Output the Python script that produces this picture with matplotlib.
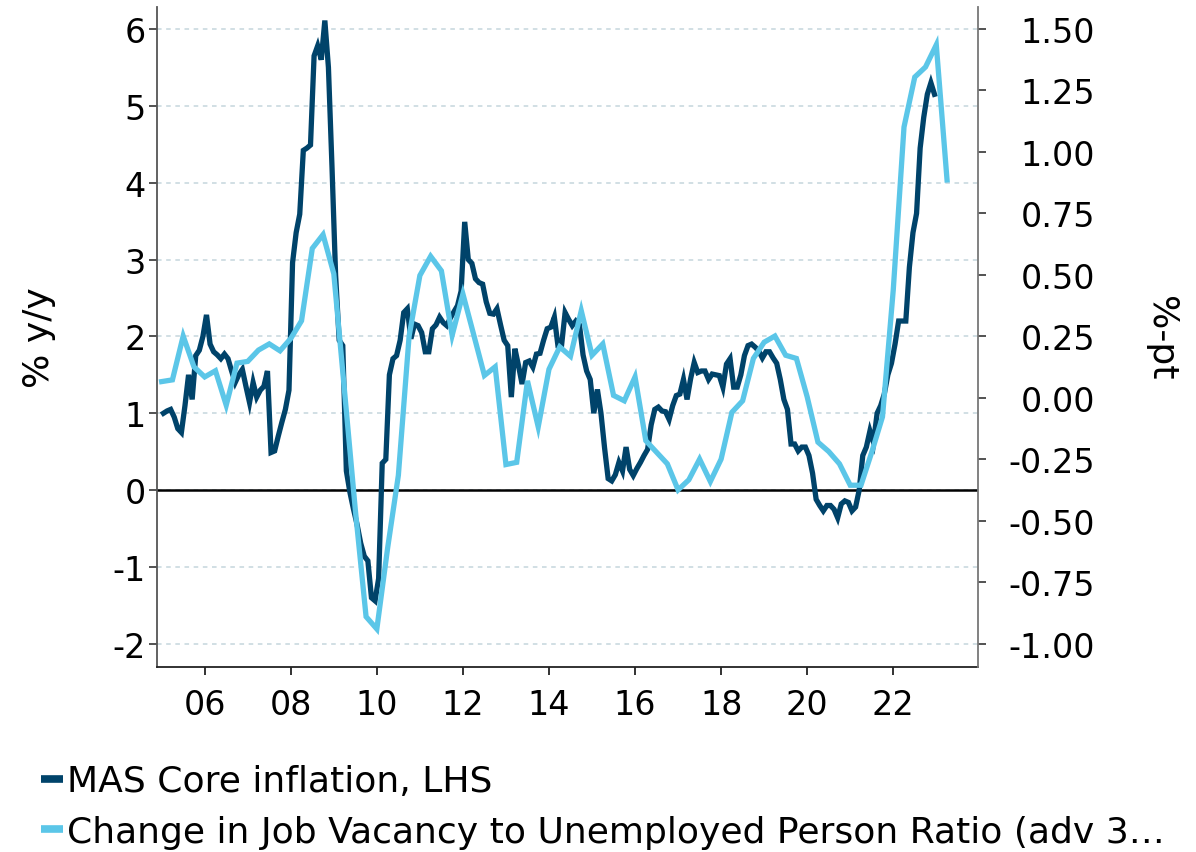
import matplotlib
matplotlib.use("Agg")
import matplotlib.pyplot as plt
from matplotlib.lines import Line2D
import numpy as np

# MAS core inflation, % y/y, monthly from Jan 2005 (left axis)
core_start = 2005
core_inflation = [
    1.0, 1.03, 1.05, 0.95, 0.8, 0.75, 1.1, 1.5, 1.18, 1.75, 1.82, 2.0,          # 2005
    2.28, 1.9, 1.8, 1.76, 1.71, 1.77, 1.71, 1.55, 1.4, 1.5, 1.57, 1.35,        # 2006
    1.14, 1.4, 1.21, 1.3, 1.35, 1.55, 0.49, 0.51, 0.7, 0.88, 1.05, 1.3,        # 2007
    2.96, 3.35, 3.59, 4.42, 4.45, 4.49, 5.65, 5.78, 5.6, 6.11, 5.5, 4.2,       # 2008
    2.8, 1.95, 1.88, 0.25, -0.03, -0.25, -0.45, -0.69, -0.86, -0.92, -1.4, -1.44,  # 2009
    -1.15, 0.35, 0.4, 1.5, 1.71, 1.75, 1.95, 2.31, 2.36, 1.97, 2.16, 2.14,     # 2010
    2.05, 1.8, 1.8, 2.1, 2.15, 2.25, 2.18, 2.14, 2.24, 2.32, 2.4, 2.59,        # 2011
    3.49, 3.0, 2.95, 2.75, 2.7, 2.68, 2.45, 2.3, 2.29, 2.36, 2.15, 1.95,       # 2012
    1.88, 1.21, 1.84, 1.62, 1.38, 1.66, 1.68, 1.6, 1.77, 1.78, 1.95, 2.1,      # 2013
    2.12, 2.25, 1.88, 1.88, 2.31, 2.22, 2.14, 2.2, 2.15, 1.76, 1.55, 1.44,     # 2014
    1.0, 1.31, 1.0, 0.55, 0.15, 0.12, 0.2, 0.36, 0.25, 0.56, 0.27, 0.19,       # 2015
    0.28, 0.36, 0.45, 0.53, 0.85, 1.05, 1.08, 1.03, 1.02, 0.92, 1.1, 1.23,     # 2016
    1.25, 1.44, 1.18, 1.45, 1.66, 1.53, 1.55, 1.55, 1.44, 1.51, 1.5, 1.49,     # 2017
    1.34, 1.64, 1.71, 1.34, 1.34, 1.5, 1.75, 1.88, 1.9, 1.86, 1.81, 1.72,      # 2018
    1.8, 1.8, 1.72, 1.65, 1.44, 1.18, 1.05, 0.6, 0.6, 0.51, 0.56, 0.56,        # 2019
    0.45, 0.22, -0.12, -0.2, -0.27, -0.2, -0.2, -0.25, -0.36, -0.18, -0.14, -0.16,  # 2020
    -0.27, -0.22, 0.0, 0.45, 0.56, 0.77, 0.62, 1.0, 1.1, 1.25, 1.5, 1.65,      # 2021
    1.9, 2.2, 2.2, 2.2, 2.9, 3.35, 3.6, 4.45, 4.85, 5.15, 5.3, 5.15,           # 2022
]

# change in job vacancy / unemployed ratio, %-pt, quarterly from 2005Q1 (right axis)
jv_start = 2005
jv_change = [
    0.066, 0.073, 0.251, 0.126,     # 2005
    0.085, 0.110, -0.030, 0.141,    # 2006
    0.148, 0.194, 0.219, 0.191,     # 2007
    0.241, 0.313, 0.607, 0.663,     # 2008
    0.504, 0.026, -0.455, -0.889,   # 2009
    -0.939, -0.611, -0.315, 0.251,  # 2010
    0.497, 0.575, 0.516, 0.254,     # 2011
    0.422, 0.257, 0.091, 0.126,     # 2012
    -0.271, -0.262, 0.069, -0.118,  # 2013
    0.116, 0.207, 0.169, 0.354,     # 2014
    0.173, 0.219, 0.010, -0.012,    # 2015
    0.085, -0.174, -0.221, -0.268,  # 2016
    -0.374, -0.333, -0.249, -0.340,  # 2017
    -0.249, -0.059, -0.012, 0.160,  # 2018
    0.226, 0.251, 0.173, 0.160,     # 2019
    0.004, -0.180, -0.218, -0.268,  # 2020
    -0.355, -0.355, -0.221, -0.077,  # 2021
    0.438, 1.100, 1.303, 1.344,     # 2022
    1.434, 0.885,                   # 2023
]

left_ticks = [-2, -1, 0, 1, 2, 3, 4, 5, 6]
right_ticks = [-1.0, -0.75, -0.5, -0.25, 0.0, 0.25, 0.5, 0.75, 1.0, 1.25, 1.5]
year_ticks = list(range(2006, 2023, 2))

DARK = "#00436A"
LIGHT = "#5BC6E8"
TICK_FS = 24
LABEL_FS = 26

plt.rcParams["font.family"] = ["DejaVu Sans"]
plt.rcParams["axes.unicode_minus"] = False

core_x = core_start + (np.arange(len(core_inflation)) + 0.5) / 12
jv_x = jv_start + np.arange(len(jv_change)) * 0.25

fig = plt.figure(figsize=(11.96, 8.53), dpi=100)
ax = fig.add_axes([0.131, 0.217, 0.687, 0.774])
ax2 = ax.twinx()

ax.plot(core_x, core_inflation, color=DARK, lw=3.8, solid_joinstyle="miter", zorder=3)
ax2.plot(jv_x, jv_change, color=LIGHT, lw=3.8, solid_joinstyle="miter", zorder=3)

ax.set_xlim(2004.884, 2023.977)
ax.set_ylim(-2.30, 6.29)
ax2.set_ylim(-1.093, 1.589)

ax.set_yticks(left_ticks)
ax.set_yticklabels([str(t) for t in left_ticks])
ax2.set_yticks(right_ticks)
ax2.set_yticklabels([f"{t:.2f}" for t in right_ticks])
ax.set_xticks(year_ticks)
ax.set_xticklabels([f"{y % 100:02d}" for y in year_ticks])

ax.yaxis.grid(True, linestyle=(0, (3, 3)), color="#c5d6dd", lw=1.1)
ax.set_axisbelow(True)
ax.axhline(0, color="black", lw=1.8, zorder=2)

for s in ["top", "right"]:
    ax.spines[s].set_visible(False)
for s in ["top", "left", "bottom"]:
    ax2.spines[s].set_visible(False)
ax.spines["left"].set_color("#555555")
ax.spines["left"].set_linewidth(1.3)
ax.spines["bottom"].set_color("#222222")
ax.spines["bottom"].set_linewidth(1.3)
ax2.spines["right"].set_color("#777777")
ax2.spines["right"].set_linewidth(1.3)

ax.tick_params(axis="y", direction="out", length=6, width=1.3, color="#444444",
               labelsize=TICK_FS, pad=2)
ax.tick_params(axis="x", direction="out", length=6, width=1.3, color="#222222",
               labelsize=TICK_FS, pad=9)
# right-hand labels are right-aligned in the original
ax2.tick_params(axis="y", direction="out", length=6, width=1.3, color="#444444",
                labelsize=TICK_FS, pad=78)
for lab in ax2.get_yticklabels():
    lab.set_horizontalalignment("right")

ax.set_ylabel("% y/y", fontsize=LABEL_FS, va="center")
ax.yaxis.set_label_coords(-0.143, 0.5)
ax2.set_ylabel("%-pt", fontsize=LABEL_FS, rotation=270, va="center")
ax2.yaxis.set_label_coords(1.222, 0.5)

handles = [
    Line2D([], [], color=DARK, lw=5.5, solid_capstyle="butt"),
    Line2D([], [], color=LIGHT, lw=5.5, solid_capstyle="butt"),
]
labels = [
    "MAS Core inflation, LHS",
    "Change in Job Vacancy to Unemployed Person Ratio (adv 3\u2026",
]
fig.legend(handles, labels, loc="upper left", bbox_to_anchor=(0.034, 0.103),
           frameon=False, fontsize=LABEL_FS, handlelength=0.62, handletextpad=0.12,
           labelspacing=0.47, borderpad=0, borderaxespad=0)

fig.savefig("out.png", dpi=100)
